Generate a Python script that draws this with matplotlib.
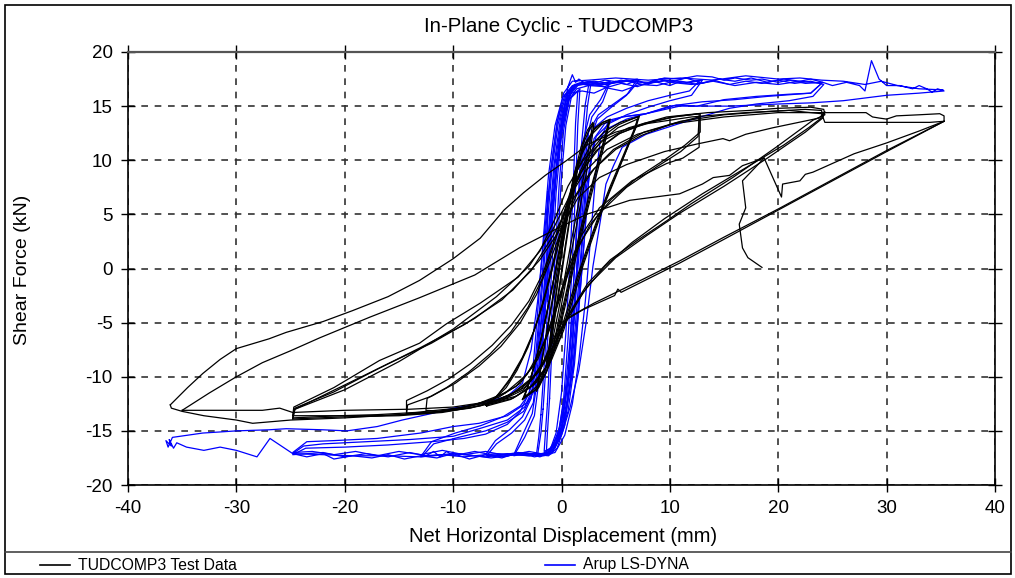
import matplotlib
matplotlib.use("Agg")
import matplotlib.pyplot as plt
from matplotlib.lines import Line2D
from matplotlib.patches import Rectangle

plt.rcParams['font.family'] = ['Liberation Sans', 'DejaVu Sans']
plt.rcParams['axes.unicode_minus'] = False

# ---- test data (black), one list per cycle ----
test_c1a = [(-1.3, -8.6), (-1.0, -6.2), (-0.6, -3.2), (-0.2, -0.2), (0.3, 3.4), (0.8, 6.6), (1.2, 8.7), (1.5, 9.7),
            (1.2, 7.6), (0.8, 5.0), (0.3, 1.8), (-0.2, -1.6), (-0.7, -4.8), (-1.0, -6.9), (-1.3, -8.6)]
test_c1b = [(-1.4, -9.0), (-1.1, -6.8), (-0.7, -3.9), (-0.3, -0.8), (0.2, 2.9), (0.7, 6.2), (1.1, 8.5), (1.6, 10.1),
            (1.3, 7.9), (0.9, 5.4), (0.4, 2.1), (-0.1, -1.3), (-0.6, -4.5), (-1.0, -7.1), (-1.4, -9.0)]
test_c2a = [(-2.3, -11.3), (-2.0, -9.6), (-1.6, -7.2), (-1.1, -4.3), (-0.6, -1.4), (0.0, 2.0), (0.6, 5.6), (1.2, 8.8),
            (1.8, 11.2), (2.4, 12.8), (2.9, 13.5), (2.6, 11.6), (2.1, 8.8), (1.5, 5.6), (0.9, 2.5), (0.3, -0.8),
            (-0.3, -4.0), (-0.9, -7.0), (-1.5, -9.4), (-2.3, -11.3)]
test_c2b = [(-2.2, -11.0), (-1.9, -9.2), (-1.5, -6.8), (-1.0, -3.9), (-0.4, -0.9), (0.2, 2.6), (0.8, 6.0), (1.4, 9.1),
            (2.0, 11.5), (2.6, 12.9), (3.0, 13.4), (2.7, 11.2), (2.2, 8.3), (1.6, 5.1), (1.0, 2.0), (0.4, -1.2),
            (-0.2, -4.4), (-0.8, -7.4), (-1.4, -9.6), (-2.2, -11.0)]
test_c3a = [(-3.5, -12.0), (-3.0, -10.6), (-2.4, -8.6), (-1.8, -6.2), (-1.2, -3.4), (-0.6, -0.4), (0.0, 2.8),
            (0.7, 6.4), (1.4, 9.4), (2.2, 11.6), (3.1, 13.0), (3.8, 13.5), (4.4, 13.7), (4.0, 12.2), (3.3, 9.6),
            (2.5, 6.6), (1.7, 3.4), (1.0, 0.4), (0.3, -2.8), (-0.4, -5.8), (-1.2, -8.6), (-2.2, -10.8), (-3.5, -12.0)]
test_c3b = [(-3.6, -12.1), (-3.1, -10.9), (-2.5, -9.0), (-1.9, -6.6), (-1.3, -3.9), (-0.7, -0.9), (-0.1, 2.3),
            (0.6, 5.9), (1.3, 9.0), (2.1, 11.3), (3.0, 12.8), (3.8, 13.5), (4.5, 13.8), (4.1, 12.0), (3.4, 9.3),
            (2.6, 6.2), (1.8, 3.0), (1.1, 0.0), (0.4, -3.2), (-0.3, -6.2), (-1.1, -8.9), (-2.1, -11.0), (-3.6, -12.1)]
test_c3c = [(-3.4, -11.8), (-2.8, -10.0), (-2.2, -7.8), (-1.6, -5.2), (-1.0, -2.3), (-0.3, 0.9), (0.4, 4.4),
            (1.1, 7.8), (1.9, 10.6), (2.8, 12.4), (3.7, 13.3), (4.4, 13.6), (3.9, 11.6), (3.1, 8.6), (2.3, 5.4),
            (1.5, 2.2), (0.8, -0.9), (0.1, -4.1), (-0.6, -7.1), (-1.4, -9.6), (-2.4, -11.2), (-3.4, -11.8)]
test_c4a = [(-6.9, -12.7), (-5.8, -11.6), (-4.7, -10.1), (-3.6, -8.2), (-2.6, -5.9), (-1.7, -3.2), (-0.9, -0.2),
            (-0.2, 3.0), (0.6, 6.4), (1.5, 9.2), (2.6, 11.2), (3.9, 12.6), (5.4, 13.5), (7.1, 14.0), (6.6, 12.6),
            (5.6, 10.2), (4.5, 7.6), (3.4, 4.8), (2.4, 2.0), (1.4, -0.9), (0.5, -3.9), (-0.4, -6.8), (-1.5, -9.2),
            (-2.9, -11.0), (-4.7, -12.1), (-6.9, -12.7)]
test_c4b = [(-7.0, -12.6), (-6.0, -11.8), (-4.9, -10.5), (-3.8, -8.7), (-2.8, -6.5), (-1.9, -3.9), (-1.1, -1.0),
            (-0.3, 2.1), (0.5, 5.4), (1.4, 8.3), (2.5, 10.6), (3.8, 12.2), (5.3, 13.3), (7.2, 14.1), (6.8, 12.9),
            (5.9, 10.7), (4.8, 8.1), (3.7, 5.4), (2.7, 2.6), (1.7, -0.3), (0.8, -3.3), (-0.1, -6.3), (-1.2, -8.8),
            (-2.6, -10.8), (-4.5, -12.0), (-7.0, -12.6)]
test_c4c = [(-6.9, -12.5), (-6.1, -12.0), (-5.1, -11.0), (-4.1, -9.4), (-3.1, -7.3), (-2.2, -4.8), (-1.4, -1.9),
            (-0.6, 1.3), (0.3, 4.6), (1.2, 7.5), (2.3, 9.9), (3.6, 11.7), (5.2, 13.0), (7.0, 13.8), (6.9, 13.1),
            (6.1, 11.2), (5.1, 8.7), (4.0, 6.0), (3.0, 3.2), (2.0, 0.3), (1.1, -2.7), (0.2, -5.7), (-0.9, -8.4),
            (-2.3, -10.5), (-4.2, -11.8), (-6.9, -12.5)]
test_c5a = [(-12.5, -13.0), (-12.4, -12.0), (-10.6, -11.0), (-8.6, -9.6), (-6.6, -7.9), (-4.7, -5.9), (-3.1, -3.6),
            (-1.8, -1.0), (-0.7, 2.2), (0.4, 5.6), (1.6, 8.6), (3.2, 10.9), (5.2, 12.4), (7.6, 13.4), (10.2, 14.0),
            (12.8, 14.3), (12.8, 12.6), (11.4, 11.4), (9.6, 10.1), (7.0, 8.4), (4.6, 6.4), (2.6, 4.0), (1.2, 1.2),
            (0.1, -2.0), (-1.0, -5.4), (-2.2, -8.4), (-3.8, -10.6), (-5.8, -11.9), (-8.4, -12.7), (-11.2, -13.2),
            (-14.3, -13.4)]
test_c5b = [(-14.3, -13.4), (-14.3, -12.2), (-12.4, -11.3), (-10.4, -10.2), (-8.4, -8.8), (-6.4, -7.1), (-4.6, -5.2),
            (-3.0, -3.0), (-1.7, -0.4), (-0.6, 2.8), (0.5, 6.0), (1.8, 8.9), (3.4, 11.0), (5.4, 12.5), (7.8, 13.4),
            (10.4, 14.0), (12.7, 14.3), (12.7, 11.2), (11.2, 10.2), (9.7, 9.7), (6.5, 8.1), (3.5, 5.6), (1.8, 3.0),
            (0.6, 0.0), (-0.4, -3.2), (-1.4, -6.4), (-2.6, -9.0), (-4.2, -10.9), (-6.4, -12.1), (-9.2, -12.9),
            (-12.0, -13.3), (-14.3, -13.4)]
test_c5c = [(-14.3, -13.4), (-14.2, -12.6), (-12.0, -11.8), (-9.8, -10.6), (-7.6, -9.0), (-5.6, -7.2), (-3.8, -5.0),
            (-2.3, -2.4), (-1.1, 0.6), (0.1, 3.8), (1.4, 6.8), (3.0, 9.2), (5.0, 11.0), (7.4, 12.3), (10.0, 13.3),
            (12.7, 14.0), (12.6, 12.2), (11.0, 10.8), (8.8, 9.4), (6.0, 7.5), (3.4, 5.0), (1.6, 2.2), (0.4, -0.9),
            (-0.7, -4.2), (-1.8, -7.3), (-3.2, -9.8), (-5.2, -11.5), (-8.0, -12.6), (-11.0, -13.2), (-12.5, -13.1)]
test_c6a = [(-24.8, -13.6), (-24.7, -12.8), (-21.0, -11.0), (-16.8, -8.5), (-13.1, -6.9), (-10.6, -5.1), (-7.5, -3.2),
            (-4.0, -0.8), (-2.0, 1.6), (-0.6, 4.6), (0.6, 7.6), (2.0, 10.0), (3.8, 11.8), (6.2, 13.0), (9.7, 14.0),
            (13.5, 14.4), (17.3, 14.6), (20.0, 14.8), (23.0, 14.9), (24.2, 14.7), (24.3, 14.2), (23.2, 13.7),
            (19.8, 11.2), (15.8, 8.4), (12.0, 6.0), (9.7, 4.4), (7.0, 2.6), (4.5, 0.8), (2.4, -1.4), (0.8, -4.0),
            (-0.6, -7.0), (-2.0, -9.4), (-3.8, -11.2), (-6.2, -12.3), (-9.6, -12.9), (-13.5, -13.3), (-17.0, -13.5),
            (-20.5, -13.6), (-24.8, -13.8)]
test_c6b = [(-24.8, -13.8), (-24.6, -13.0), (-20.5, -11.0), (-16.0, -8.8), (-12.0, -6.9), (-8.0, -4.6), (-4.5, -2.0),
            (-2.0, 0.8), (0.0, 3.8), (1.5, 6.5), (3.5, 8.4), (6.0, 9.6), (9.5, 10.8), (12.5, 11.5), (14.9, 12.0),
            (15.5, 11.8), (17.0, 12.4), (19.5, 13.0), (23.8, 13.9), (24.3, 14.5), (24.1, 13.9), (22.5, 12.6),
            (19.0, 10.2), (15.0, 7.6), (10.9, 5.1), (7.8, 3.0), (5.0, 1.0), (2.5, -1.5), (0.6, -4.4), (-1.0, -7.6),
            (-2.6, -10.0), (-4.6, -11.6), (-7.5, -12.7), (-11.0, -13.3), (-15.0, -13.6), (-20.0, -13.7), (-24.8, -13.9)]
test_c6c = [(-24.8, -13.6), (-24.6, -12.9), (-21.0, -11.4), (-17.0, -9.3), (-13.0, -7.3), (-9.0, -5.2), (-5.5, -2.9),
            (-2.8, -0.2), (-0.8, 3.0), (0.8, 6.0), (2.6, 8.8), (4.8, 11.0), (7.6, 12.6), (11.0, 13.6), (15.0, 14.2),
            (19.0, 14.5), (22.5, 14.7), (24.0, 14.6), (24.1, 14.0), (22.8, 13.0), (20.5, 11.4), (17.0, 9.3),
            (13.0, 6.9), (9.5, 4.6), (6.5, 2.4), (4.0, 0.2), (2.0, -2.2), (0.4, -5.0), (-1.2, -8.0), (-2.8, -10.3),
            (-5.0, -11.9), (-8.4, -12.9), (-12.5, -13.4), (-17.0, -13.6), (-21.0, -13.6), (-24.8, -13.6)]
test_c7_up = [(-24.8, -13.9), (-24.6, -13.0), (-20.0, -11.2), (-15.0, -8.6), (-10.0, -5.6), (-6.0, -2.6),
              (-3.0, 0.2), (-1.0, 3.2), (0.6, 6.4), (2.2, 9.0), (4.2, 11.0), (7.0, 12.4), (10.5, 13.4), (15.0, 14.0),
              (20.0, 14.4), (24.0, 14.4), (26.0, 14.4), (28.1, 14.4), (28.7, 14.0), (29.3, 13.9), (30.0, 13.8),
              (30.9, 14.1), (33.0, 14.2), (34.9, 14.3), (35.3, 14.1), (35.3, 13.6)]
test_c7_down = [(35.3, 13.6), (30.0, 10.8), (25.0, 8.1), (20.0, 5.4), (15.0, 2.7), (10.9, 0.5), (7.5, -1.2),
                (5.5, -2.2), (5.2, -1.9), (4.9, -2.5), (2.0, -3.8), (0.0, -5.0), (-1.0, -7.0), (-2.0, -9.4),
                (-3.5, -11.2), (-6.0, -12.4), (-10.0, -13.1), (-15.0, -13.5), (-20.0, -13.8), (-25.0, -14.0),
                (-28.5, -14.3), (-30.0, -14.0), (-33.0, -13.6), (-35.0, -13.2), (-36.0, -12.9), (-36.1, -12.6)]
test_c7_upA = [(-36.1, -12.6), (-35.9, -12.4), (-34.5, -11.0), (-33.1, -9.7), (-31.5, -8.4), (-30.0, -7.4),
               (-29.0, -7.1), (-27.0, -6.5), (-25.4, -5.9), (-22.0, -4.9), (-19.3, -3.9), (-16.0, -2.6),
               (-13.1, -1.1), (-10.0, 0.9), (-7.5, 2.8), (-5.3, 5.4), (-3.5, 7.0), (-1.5, 8.6), (0.5, 10.0),
               (2.5, 11.5), (5.0, 12.6), (8.0, 13.4), (12.0, 14.0), (17.0, 14.4), (21.0, 14.6), (24.0, 14.3),
               (24.3, 13.5), (26.0, 13.5), (30.0, 13.5), (34.0, 13.5), (35.3, 13.6)]
test_c7_down2 = [(35.3, 13.6), (30.0, 10.9), (25.0, 8.2), (20.0, 5.5), (15.0, 2.9), (10.9, 0.7), (7.5, -1.0),
                 (3.0, -3.2), (0.5, -4.6), (-0.8, -6.8), (-1.9, -9.2), (-3.4, -11.0), (-6.0, -12.2), (-10.0, -12.8),
                 (-14.0, -13.0), (-20.0, -13.1), (-24.8, -13.3), (-26.0, -12.9), (-27.6, -13.1), (-30.0, -13.1),
                 (-35.0, -13.1)]
test_c7_upB = [(-35.0, -13.1), (-32.5, -11.5), (-30.0, -10.0), (-27.6, -8.7), (-25.0, -7.6), (-22.3, -6.4),
               (-17.7, -4.5), (-13.1, -2.7), (-8.0, -0.6), (-3.9, 1.9), (0.0, 3.9), (2.3, 5.0), (6.3, 6.3),
               (10.9, 6.9), (13.0, 7.8), (14.0, 8.4), (15.5, 8.6), (16.7, 9.5), (18.7, 10.2), (20.3, 6.6),
               (20.4, 7.8), (22.0, 8.1), (22.5, 8.7), (23.2, 8.9), (24.1, 9.3), (27.0, 10.6), (30.0, 11.6),
               (33.0, 12.7), (35.3, 13.6)]
test_c7_end = [(18.7, 10.2), (16.7, 8.1), (17.0, 5.6), (16.4, 4.1), (16.7, 1.9), (17.2, 1.0), (18.5, 0.1)]

test_paths = [test_c1a, test_c1b, test_c2a, test_c2b, test_c3a, test_c3b, test_c3c, test_c4a, test_c4b, test_c4c,
              test_c5a, test_c5b, test_c5c, test_c6a, test_c6b, test_c6c,
              test_c7_up, test_c7_down, test_c7_upA, test_c7_down2, test_c7_upB, test_c7_end]

# ---- LS-DYNA model (blue), one list per cycle ----
dyna_c1a = [(-1.3, -12.5), (-1.0, -6.0), (-0.6, 1.0), (-0.2, 8.0), (0.2, 12.8), (0.7, 15.6), (1.5, 16.4),
            (1.3, 13.5), (1.1, 8.0), (0.8, 1.0), (0.4, -6.0), (0.0, -11.5), (-0.5, -15.2), (-1.0, -16.6),
            (-1.6, -16.9), (-1.5, -15.4), (-1.3, -12.5)]
dyna_c1b = [(-1.1, -12.0), (-0.8, -5.5), (-0.4, 1.5), (0.0, 8.5), (0.4, 13.2), (0.9, 15.8), (1.7, 16.6),
            (1.5, 13.2), (1.3, 7.5), (1.0, 0.5), (0.6, -6.5), (0.2, -12.0), (-0.3, -15.5), (-0.8, -16.8),
            (-1.4, -17.0), (-1.3, -15.2), (-1.1, -12.0)]
dyna_c2a = [(-1.9, -13.5), (-1.5, -7.5), (-1.1, -0.5), (-0.7, 6.5), (-0.2, 12.0), (0.4, 15.4), (1.0, 16.8),
            (1.7, 17.1), (2.5, 16.9), (2.2, 15.2), (1.8, 11.0), (1.4, 4.0), (1.0, -3.5), (0.6, -10.0), (0.1, -14.2),
            (-0.6, -16.5), (-1.4, -17.2), (-2.3, -17.1), (-2.1, -15.6), (-1.9, -13.5)]
dyna_c2b = [(-1.7, -13.0), (-1.3, -7.0), (-0.9, 0.0), (-0.5, 7.0), (0.0, 12.4), (0.6, 15.6), (1.2, 16.9),
            (1.9, 17.2), (2.7, 17.0), (2.4, 15.0), (2.0, 10.6), (1.6, 3.5), (1.2, -4.0), (0.8, -10.4), (0.3, -14.5),
            (-0.4, -16.6), (-1.2, -17.3), (-2.2, -17.2), (-1.9, -15.2), (-1.7, -13.0)]
dyna_c3a = [(-1.9, -9.0), (-1.4, -2.5), (-0.9, 4.5), (-0.4, 10.0), (0.2, 14.0), (0.8, 16.2), (1.6, 17.1),
            (2.6, 17.3), (3.5, 17.1), (4.4, 17.2), (3.6, 15.6), (2.6, 14.2), (2.0, 11.8), (1.6, 6.5), (1.2, 0.0),
            (0.8, -6.5), (0.3, -11.8), (-0.3, -15.2), (-1.1, -16.9), (-2.2, -17.3), (-3.3, -17.1), (-4.4, -17.3),
            (-3.4, -15.6), (-2.5, -13.6), (-1.9, -9.0)]
dyna_c3b = [(-2.1, -9.6), (-1.6, -3.0), (-1.1, 4.0), (-0.6, 9.6), (0.0, 13.8), (0.6, 16.1), (1.4, 17.0),
            (2.4, 17.2), (3.4, 17.0), (4.5, 17.3), (3.8, 15.4), (2.8, 14.0), (2.2, 11.4), (1.8, 6.0), (1.4, -0.5),
            (1.0, -7.0), (0.5, -12.2), (-0.1, -15.4), (-0.9, -17.0), (-2.0, -17.4), (-3.2, -17.1), (-4.4, -17.2),
            (-3.6, -15.4), (-2.7, -13.4), (-2.1, -9.6)]
dyna_c4a = [(-2.2, -9.0), (-1.7, -3.0), (-1.2, 3.5), (-0.7, 9.5), (-0.1, 13.8), (0.6, 16.2), (1.5, 17.1), (3.0, 17.3),
            (4.5, 17.1), (6.0, 17.4), (7.1, 17.3), (6.2, 16.2), (4.8, 15.2), (3.4, 14.2), (2.5, 12.6), (2.0, 8.5),
            (1.6, 2.5), (1.1, -4.0), (0.6, -10.0), (0.0, -14.2), (-0.8, -16.4), (-1.8, -17.2), (-3.0, -17.3),
            (-5.0, -17.1), (-6.9, -17.3), (-6.0, -16.2), (-4.6, -15.2), (-3.4, -14.0), (-2.6, -12.4), (-2.2, -9.0)]
dyna_c4b = [(-2.4, -9.4), (-1.9, -3.4), (-1.4, 3.0), (-0.9, 9.0), (-0.3, 13.4), (0.4, 16.0), (1.3, 17.0),
            (2.6, 17.0), (4.0, 17.4), (5.5, 17.2), (7.0, 17.5), (6.0, 16.0), (4.6, 14.9), (3.3, 13.8), (2.6, 11.8),
            (2.2, 7.5), (1.8, 1.5), (1.3, -5.0), (0.8, -10.6), (0.2, -14.5), (-0.6, -16.6), (-1.6, -17.3),
            (-3.4, -17.0), (-5.4, -17.4), (-7.0, -17.2), (-6.1, -15.9), (-4.8, -14.9), (-3.6, -13.7), (-2.8, -12.0),
            (-2.4, -9.4)]
dyna_c5a = [(-2.5, -9.5), (-2.0, -3.5), (-1.5, 3.0), (-1.0, 9.0), (-0.4, 13.5), (0.3, 16.0), (1.2, 17.0),
            (2.5, 17.2), (4.0, 17.0), (6.0, 17.4), (8.0, 17.1), (10.0, 17.4), (11.5, 17.2), (12.8, 17.4),
            (11.8, 16.4), (10.0, 16.0), (8.0, 15.5), (6.0, 14.8), (4.2, 14.0), (3.0, 13.0), (2.3, 10.5), (1.9, 5.0),
            (1.4, -1.5), (0.9, -8.0), (0.3, -12.8), (-0.4, -15.6), (-1.3, -17.0), (-3.0, -17.3), (-6.0, -17.1),
            (-9.0, -17.4), (-11.0, -17.2), (-12.8, -17.3), (-11.8, -16.2), (-9.5, -15.6), (-7.0, -15.0),
            (-5.0, -14.2), (-3.5, -13.2), (-2.8, -11.8), (-2.5, -9.5)]
dyna_c5b = [(-2.7, -10.0), (-2.2, -4.0), (-1.7, 2.5), (-1.2, 8.6), (-0.6, 13.2), (0.1, 15.8), (1.0, 16.9),
            (2.2, 17.1), (3.5, 16.9), (5.5, 17.4), (7.5, 17.0), (9.5, 17.4), (11.5, 17.1), (13.0, 17.4),
            (12.0, 16.0), (10.0, 15.5), (8.0, 14.9), (6.0, 14.2), (4.4, 13.4), (3.2, 12.2), (2.6, 9.5), (2.2, 4.0),
            (1.7, -2.5), (1.2, -8.8), (0.6, -13.2), (-0.2, -15.8), (-1.1, -17.1), (-3.5, -17.1), (-6.5, -17.5),
            (-9.5, -17.1), (-13.0, -17.4), (-12.0, -16.0), (-9.8, -15.2), (-7.4, -14.5), (-5.4, -13.7),
            (-3.8, -12.7), (-3.0, -11.6), (-2.7, -10.0)]
dyna_c6a = [(-2.0, -9.0), (-1.5, -3.5), (-1.0, 2.5), (-0.5, 8.5), (0.1, 13.0), (0.7, 15.6), (1.4, 16.6), (2.5, 16.9),
            (4.0, 16.8), (5.0, 17.3), (6.0, 17.0), (7.0, 17.4), (8.0, 17.0), (9.0, 17.5), (10.0, 17.2), (11.5, 17.6),
            (13.0, 17.1), (14.5, 17.5), (16.0, 17.3), (17.5, 17.6), (19.0, 17.2), (20.5, 17.5), (22.0, 17.3),
            (23.0, 17.5), (24.1, 17.2), (23.0, 16.2), (19.0, 15.9), (16.0, 15.6), (13.0, 15.4), (10.0, 15.0),
            (7.8, 14.3), (5.6, 14.0), (4.0, 13.4), (3.0, 12.0), (2.5, 8.0), (2.1, 2.5), (1.6, -3.5), (1.1, -9.0),
            (0.5, -12.8), (-0.3, -15.6), (-1.1, -17.0), (-2.0, -17.2), (-4.0, -17.0), (-5.5, -17.5), (-7.0, -17.2),
            (-8.5, -17.6), (-10.0, -17.1), (-11.5, -17.5), (-13.0, -17.3), (-14.5, -17.6), (-16.0, -17.2),
            (-17.5, -17.5), (-19.3, -17.3), (-21.0, -17.6), (-22.0, -17.1), (-23.5, -17.4), (-24.8, -17.1),
            (-23.8, -16.4), (-22.0, -16.2), (-18.0, -16.0), (-14.0, -15.8), (-10.0, -15.5), (-7.6, -14.8),
            (-5.0, -14.0), (-3.4, -12.8), (-2.6, -11.0), (-2.0, -9.0)]
dyna_c6b = [(-2.4, -9.5), (-1.8, -4.0), (-1.2, 2.5), (-0.6, 8.5), (0.0, 13.0), (0.6, 15.8), (1.5, 16.9), (2.8, 17.2),
            (4.1, 16.7), (5.5, 17.1), (7.0, 16.8), (8.5, 17.3), (10.0, 16.9), (11.0, 17.3), (12.5, 17.0),
            (14.0, 17.4), (15.5, 17.0), (17.0, 17.3), (18.5, 17.1), (20.0, 17.4), (21.5, 17.1), (23.0, 17.3),
            (24.2, 17.0), (23.2, 15.9), (21.0, 15.5), (18.0, 15.2), (15.5, 14.8), (12.5, 13.9), (10.9, 13.4),
            (7.8, 12.4), (5.6, 11.2), (4.8, 9.5), (4.1, 7.8), (3.6, 4.5), (2.9, 0.2), (2.3, -4.8), (1.6, -9.4),
            (0.8, -12.8), (0.0, -15.4), (-0.9, -17.1), (-2.5, -17.4), (-4.0, -17.0), (-6.0, -17.3), (-8.0, -16.9),
            (-10.0, -17.3), (-10.6, -16.9), (-11.2, -17.4), (-11.8, -16.9), (-12.5, -17.3), (-14.0, -17.0),
            (-16.0, -17.4), (-18.0, -17.1), (-20.0, -17.4), (-22.0, -17.0), (-24.8, -17.2), (-23.6, -16.6),
            (-20.0, -16.5), (-16.0, -16.3), (-12.0, -16.0), (-9.0, -15.7), (-7.0, -15.3), (-5.0, -14.4),
            (-3.8, -13.2), (-3.0, -11.5), (-2.4, -9.5)]
dyna_c6c = [(-1.8, -8.0), (-1.4, -2.0), (-0.9, 4.5), (-0.4, 10.0), (0.2, 14.2), (0.9, 16.2), (1.9, 16.4),
            (3.0, 16.2), (4.1, 16.7), (5.6, 16.4), (7.2, 17.0), (8.8, 16.9), (10.0, 17.2), (12.0, 17.0), (14.0, 17.3),
            (16.0, 16.9), (18.0, 17.2), (20.0, 17.0), (22.0, 17.3), (24.0, 17.1), (23.0, 16.2), (21.0, 16.1),
            (18.0, 15.9), (15.0, 15.6), (12.5, 15.0), (10.6, 15.1), (7.8, 14.3), (6.0, 13.8), (4.4, 13.0),
            (3.0, 11.6), (2.3, 7.5), (1.9, 2.0), (1.5, -4.0), (1.0, -9.5), (0.4, -13.4), (-0.4, -16.0),
            (-1.4, -17.2), (-3.0, -16.9), (-5.0, -17.3), (-7.0, -16.9), (-9.0, -17.2), (-11.0, -16.8),
            (-13.0, -17.2), (-15.0, -16.9), (-17.0, -17.3), (-19.0, -16.9), (-21.0, -17.2), (-23.0, -16.9),
            (-24.8, -17.0), (-23.5, -16.0), (-21.0, -15.9), (-17.0, -15.7), (-13.0, -15.2), (-10.0, -14.6),
            (-7.6, -14.3), (-5.0, -13.6), (-3.2, -12.4), (-2.3, -11.0), (-1.8, -8.0)]
dyna_c7a = [(-2.2, -10.5), (-1.7, -5.0), (-1.1, 2.0), (-0.5, 9.0), (0.1, 14.0), (0.6, 16.8), (1.0, 17.9), (1.3, 17.2),
            (1.6, 17.5), (2.5, 16.9), (4.0, 17.0), (6.0, 17.3), (8.0, 17.2), (9.5, 17.6), (10.9, 17.5), (12.5, 17.8),
            (13.9, 17.7), (15.0, 17.4), (16.0, 17.6), (17.5, 17.4), (18.5, 17.5), (20.0, 17.2), (21.0, 17.4),
            (22.5, 17.1), (24.1, 17.2), (25.0, 16.9), (26.3, 17.2), (27.5, 16.9), (28.0, 16.4), (28.6, 19.2),
            (29.3, 17.5), (30.0, 16.9), (31.2, 16.9), (32.4, 16.6), (33.0, 16.9), (33.7, 16.6), (34.2, 16.3),
            (34.7, 16.6), (35.3, 16.4), (33.0, 16.2), (30.0, 16.0), (26.0, 15.5), (23.0, 15.3), (20.1, 15.2),
            (15.5, 15.0), (10.9, 15.0), (7.8, 14.3), (5.6, 14.0), (4.4, 13.7), (3.6, 12.0), (3.1, 8.0), (2.7, 3.0),
            (2.2, -3.0), (1.6, -8.5), (1.0, -12.5), (0.3, -15.4), (-0.6, -17.0), (-2.0, -17.3), (-4.0, -17.1),
            (-7.0, -17.4), (-10.0, -17.1), (-13.1, -17.4), (-16.0, -17.3), (-19.3, -17.3), (-22.0, -17.2),
            (-24.8, -17.1), (-25.7, -16.5), (-26.9, -15.7), (-28.1, -17.4), (-30.0, -16.8), (-31.5, -16.5),
            (-33.0, -16.8), (-34.6, -16.5), (-35.5, -16.1), (-35.8, -16.6), (-36.2, -15.8), (-36.0, -16.4),
            (-36.5, -15.9), (-36.3, -16.5), (-35.9, -15.6), (-34.5, -15.4), (-33.1, -15.2), (-31.5, -15.1),
            (-30.0, -15.0), (-27.0, -14.9), (-25.4, -14.8), (-22.0, -14.9), (-19.8, -15.0), (-17.0, -14.6),
            (-14.7, -14.0), (-12.0, -13.4), (-10.0, -12.9), (-7.6, -12.5), (-5.0, -11.8), (-3.6, -10.6),
            (-2.8, -7.5), (-2.2, -3.0), (-1.6, 3.0), (-1.0, 9.0), (-0.4, 13.5), (0.2, 16.2), (1.0, 17.3),
            (2.5, 17.4), (5.0, 17.6), (8.0, 17.4), (11.0, 17.6), (14.0, 17.4), (17.0, 17.8), (20.0, 17.5),
            (22.0, 17.6), (24.0, 17.4), (26.0, 17.3), (28.0, 17.0), (29.5, 17.3), (31.0, 16.9), (33.0, 16.6),
            (35.2, 16.5)]
dyna_spike = [(-1.3, -3.0), (-1.3, 7.2)]

dyna_paths = [dyna_c1a, dyna_c1b, dyna_c2a, dyna_c2b, dyna_c3a, dyna_c3b, dyna_c4a, dyna_c4b,
              dyna_c5a, dyna_c5b, dyna_c6a, dyna_c6b, dyna_c6c, dyna_c7a, dyna_spike]

title = "In-Plane Cyclic - TUDCOMP3"
xlabel = "Net Horizontal Displacement (mm)"
ylabel = "Shear Force (kN)"
legend_labels = ["TUDCOMP3 Test Data", "Arup LS-DYNA"]

W, H = 1015, 578
fig = plt.figure(figsize=(W / 100, H / 100), dpi=100)
ax = fig.add_axes([128 / W, 1 - 485 / H, 867 / W, 433 / H])

for p in dyna_paths:
    ax.plot([q[0] for q in p], [q[1] for q in p], color='#0000ff', lw=0.9, zorder=2)
for p in test_paths:
    ax.plot([q[0] for q in p], [q[1] for q in p], color='black', lw=0.9, zorder=3)

ax.set_xlim(-40, 40)
ax.set_ylim(-20, 20)
ax.set_xticks(range(-40, 41, 10))
ax.set_yticks(range(-20, 21, 5))
ax.grid(True, color='#333333', lw=1.2, ls=(0, (4, 4)))
ax.tick_params(direction='inout', length=10, width=1.0, top=True, right=True, labelsize=13.5, pad=6)
for s in ax.spines.values():
    s.set_linewidth(1.2)
ax.spines['top'].set_color('#555555')
ax.spines['top'].set_linewidth(1.6)

fig.text(559 / W, 1 - 27 / H, title, ha='center', va='center', fontsize=14.8)
fig.text(563 / W, 1 - 537 / H, xlabel, ha='center', va='center', fontsize=14.5)
fig.text(23 / W, 1 - 270 / H, ylabel, ha='center', va='center', rotation=90, fontsize=14)

# frame and legend strip
fig.patches.append(Rectangle((5 / W, 4 / H), 1006 / W, 569 / H, transform=fig.transFigure,
                             fill=False, ec='black', lw=1.2))
fig.lines.append(Line2D([5 / W, 1011 / W], [1 - 552 / H, 1 - 552 / H], transform=fig.transFigure,
                        color='#444444', lw=1.2))
ly = 1 - 565 / H
fig.lines.append(Line2D([40 / W, 70 / W], [ly, ly], transform=fig.transFigure, color='black', lw=1.2))
fig.text(78 / W, ly, legend_labels[0], ha='left', va='center', fontsize=11.3)
fig.lines.append(Line2D([545 / W, 575 / W], [ly, ly], transform=fig.transFigure, color='#0000ff', lw=1.2))
fig.text(583 / W, ly, legend_labels[1], ha='left', va='center', fontsize=11.3)

fig.savefig("out.png", dpi=100)
